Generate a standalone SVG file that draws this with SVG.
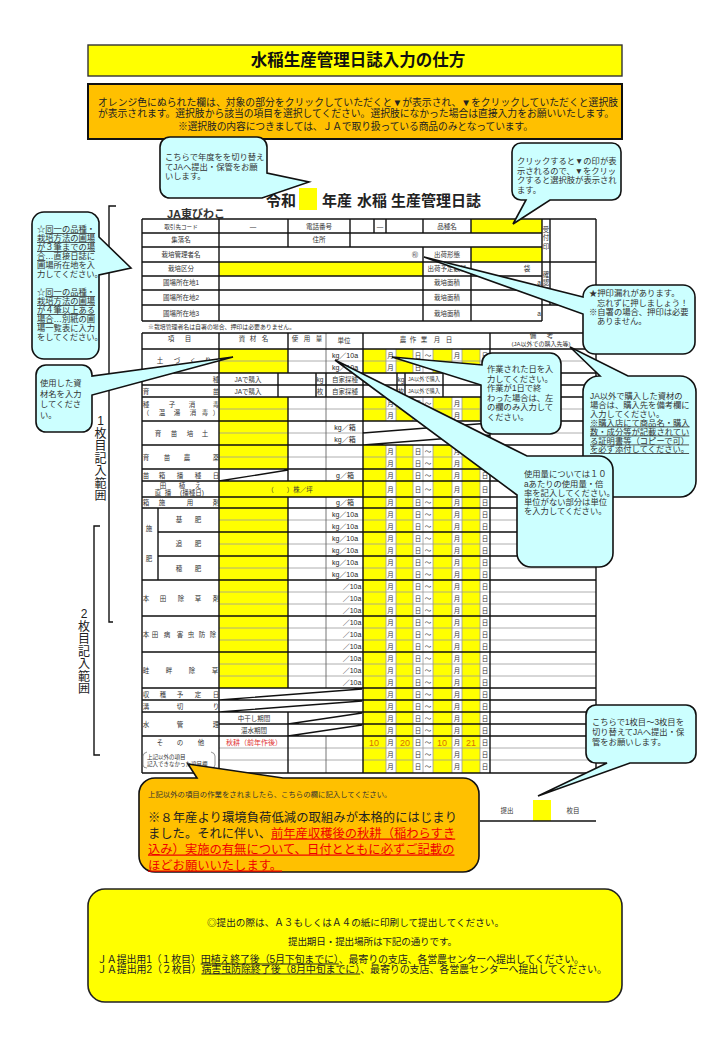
<svg xmlns="http://www.w3.org/2000/svg" width="720" height="1040" viewBox="0 0 720 1040">
<style>
text{font-family:"Liberation Sans","Noto Sans CJK JP",sans-serif;fill:#222}
.b{fill:#ccffff;stroke:#111;stroke-width:1.6}
.o{fill:#ffc000;stroke:#111;stroke-width:1.6}
.y{fill:#ffff00}
.blk{fill:none;stroke:#111;stroke-width:1.4}
.thin{fill:none;stroke:#999;stroke-width:.8}
.mid{fill:none;stroke:#666;stroke-width:.9}
.t{font-size:6.5px;fill:#333}
.tm{font-size:6.5px;text-anchor:middle;fill:#333}
.dt{font-size:6.5px;text-anchor:middle;fill:#333}
.n{font-size:8.3px;fill:#333}
.u{text-decoration:underline}
.r{fill:#f00000;text-decoration:underline}
.v{font-size:12px;text-anchor:middle;fill:#222}
.num{font-size:9px;text-anchor:middle;fill:#d87000}
</style>
<rect width="720" height="1040" fill="#fff"/>

<g id="title">
<rect x="88" y="45" width="534" height="31" class="y" stroke="#333" stroke-width="1.4"/>
<text x="358" y="66" font-size="16.5" font-weight="bold" text-anchor="middle" style="fill:#111">水稲生産管理日誌入力の仕方</text>
</g>

<g id="notice">
<rect x="88" y="84" width="534" height="55" fill="#ffc000" stroke="#111" stroke-width="2"/>
<text x="98" y="105.5" font-size="9.8" textLength="520" lengthAdjust="spacing">オレンジ色にぬられた欄は、対象の部分をクリックしていただくと▼が表示され、▼をクリックしていただくと選択肢</text>
<text x="98" y="116.8" font-size="9.8" textLength="516" lengthAdjust="spacing">が表示されます。選択肢から該当の項目を選択してください。選択肢になかった場合は直接入力をお願いいたします。</text>
<text x="178" y="129.5" font-size="9.8" textLength="355" lengthAdjust="spacing">※選択肢の内容につきましては、ＪＡで取り扱っている商品のみとなっています。</text>
</g>

<g id="form-heading">
<rect x="299" y="188" width="18" height="22" class="y"/>
<text y="206" font-size="15" font-weight="bold" style="fill:#222"><tspan x="266">令和</tspan><tspan x="322">年産</tspan><tspan x="357">水稲</tspan><tspan x="391">生産管理日誌</tspan></text>
<text x="167" y="218" font-size="11" font-weight="bold" style="fill:#333">JA東びわこ</text>
</g>

<g id="brackets">
<path class="blk" d="M116,206H109V622H113"/>
<path class="blk" d="M100,526H94V755H100"/>
<text class="v" x="100.500 100.500 100.500 100.500 100.500 100.500 100.500" y="425 437.500 450 462.500 475 487.500 500">1枚目記入範囲</text>
<text class="v" x="84 84 84 84 84 84 84" y="618 630.500 643 655.500 668 680.500 693">2枚目記入範囲</text>
</g>

<g id="header-table">
<rect class="y" x="471" y="219" width="71" height="14"/>
<rect class="y" x="471" y="247" width="71" height="15"/>
<rect class="y" x="219" y="262" width="204" height="14"/>
<path class="blk" d="M142,219H596M142,233H542M142,247H542M142,262H596M142,276H542M142,290H542M142,305H596M142,321H542M142,219V321M219,219V321M288,219V247M350,219V247M374,219V233M386,219V233M423,219V233M423,247V321M471,219V233M471,247V321M542,219V321M550,219V305M596,219V305"/>
<g class="tm">
<text class="tm" style="font-size:5.6px" x="181" y="228.500">取引先コード</text>
<text class="tm" x="181" y="242">集落名</text>
<text class="tm" x="181" y="256.500">栽培管理者名</text>
<text class="tm" x="181" y="271">栽培区分</text>
<text class="tm" x="181" y="285">圃場所在地1</text>
<text class="tm" x="181" y="300">圃場所在地2</text>
<text class="tm" x="181" y="315.500">圃場所在地3</text>
<text class="tm" x="253" y="228.500">—</text>
<text class="tm" x="319" y="228.500">電話番号</text>
<text class="tm" x="319" y="242">住所</text>
<text class="tm" x="380" y="228.500">—</text>
<text class="tm" x="447" y="228.500">品種名</text>
<text class="tm" x="415" y="256.500">㊞</text>
<text class="tm" x="447" y="256.500">出荷形態</text>
<text class="tm" x="447" y="271">出荷予定数量</text>
<text class="tm" x="527" y="271">袋</text>
<text class="tm" x="447" y="285">栽培面積</text>
<text class="tm" x="447" y="300">栽培面積</text>
<text class="tm" x="447" y="315.500">栽培面積</text>
<text class="tm" x="539" y="285">a</text>
<text class="tm" x="539" y="315.500">a</text>
<text class="tm" x="546 546 546" y="232 240 249">受付印</text>
<text class="tm" x="546 546 546" y="277 285 293">確認印</text>
</g>
<text x="148" y="329" font-size="5.9" style="fill:#333">※栽培管理者名は自署の場合、押印は必要ありません。</text>
</g>

<g id="main-table">
<g class="y">
<rect x="219" y="349" width="69" height="24"/>
<rect x="219" y="397" width="69" height="72"/>
<rect x="219" y="481" width="144" height="16"/>
<rect x="219" y="497" width="69" height="191"/>
<path d="M363,349h23v24h-23zM396,349h17v24h-17zM433,349h19v24h-19zM462,349h18v24h-18zM363,397h23v24h-23zM396,397h17v24h-17zM433,397h19v24h-19zM462,397h18v24h-18zM363,445h23v328h-23zM396,445h17v328h-17zM433,445h19v328h-19zM462,445h18v328h-18z"/>
</g>
<path class="thin" d="M219,361H596M219,409H596M219,433H363M490,433H596M219,457H596M219,520H596M219,544H596M219,568H596M219,592H596M219,604H596M219,628H596M219,640H596M219,664H596M219,676H596M219,748H596M219,760H596M386,349V373M396,349V373M413,349V373M423,349V373M433,349V373M452,349V373M462,349V373M480,349V373M386,397V421M396,397V421M413,397V421M423,397V421M433,397V421M452,397V421M462,397V421M480,397V421M386,445V773M396,445V773M413,445V773M423,445V773M433,445V773M452,445V773M462,445V773M480,445V773"/>
<path class="mid" d="M326,333V373M326,397V481M326,497V688M326,736V773"/>
<path class="blk" d="M142,333H596M142,349H596M142,373H596M142,385H596M142,397H596M142,421H596M142,445H596M142,469H596M142,481H596M142,497H596M142,508H596M158,532H596M158,556H596M142,580H596M142,616H596M142,652H596M142,688H596M142,700H596M142,712H596M219,724H596M142,736H596M142,773H596M142,333V773M158,508V580M219,333V773M288,333V373M288,397V481M288,497V688M288,712V773M363,333V773M490,333V773M596,333V773M278,373V397M316,373V397M326,373V397M397,373V397M405,373V397M443,373V397M219,481L288,470M363,433L490,423M363,445L490,435M219,700L362,689M219,712L362,701M288,724L362,713M288,736L362,725"/>
<g id="row-labels">
<text class="tm" x="171 188" y="341 341">項目</text>
<text class="tm" x="242 253 265" y="341 341 341">資材名</text>
<text class="tm" x="295 307 319" y="341 341 341">使用量</text>
<text class="tm" x="344" y="342.500">単位</text>
<text class="tm" x="403 413 424 437 449" y="342 342 342 342 342">農作業月日</text>
<text class="tm" x="533 550" y="338 338">備考</text>
<text class="tm" style="font-size:6px" x="541" y="345.500">(JA以外での購入先等)</text>
<text class="tm" x="160 177 193 208" y="363 363 363 363">土づくり</text>
<text class="tm" x="216" y="381.500">種</text>
<text class="tm" x="146 216" y="393.500 393.500">育苗</text>
<text class="tm" x="146 172 192 216" y="407 407 407 407">種子消毒</text>
<text class="tm" x="146 162 177 193 205 216" y="415 415 415 415 415 415">（温湯消毒）</text>
<text class="tm" x="158 174 190 205" y="435.500 435.500 435.500 435.500">育苗培土</text>
<text class="tm" x="146 167 187 216" y="459.500 459.500 459.500 459.500">育苗農薬</text>
<text class="tm" x="146 162 180 198 216" y="477.500 477.500 477.500 477.500 477.500">苗箱播種日</text>
<text class="tm" x="163 182 198" y="487.500 487.500 487.500">田植え</text>
<text class="tm" x="158 168" y="494.500 494.500">直播</text>
<text class="tm" x="192" y="494.500">(播種日)</text>
<text class="tm" x="146 162 190 216" y="505 505 505 505">箱施用剤</text>
<text class="tm" x="149 149" y="531 561">施肥</text>
<text class="tm" x="179 198" y="522 522">基肥</text>
<text class="tm" x="179 198" y="546 546">追肥</text>
<text class="tm" x="179 198" y="571 571">穂肥</text>
<text class="tm" x="146 163 181 198 216" y="600.500 600.500 600.500 600.500 600.500">本田除草剤</text>
<text class="tm" x="146 155 167 180 191 202 213" y="636.500 636.500 636.500 636.500 636.500 636.500 636.500">本田病害虫防除</text>
<text class="tm" x="146 169 192 215" y="672.500 672.500 672.500 672.500">畦畔除草</text>
<text class="tm" x="146 163 180 198 216" y="696.500 696.500 696.500 696.500 696.500">収穫予定日</text>
<text class="tm" x="146 180 216" y="708.500 708.500 708.500">溝切り</text>
<text class="tm" x="146 180 216" y="726.500 726.500 726.500">水管理</text>
<text class="tm" x="160 180 201" y="744.500 744.500 744.500">その他</text>
<path class="mid" style="stroke-width:.7" d="M147,752Q143,753 143,756V765Q143,768 147,768M211,752Q215,753 215,756V765Q215,768 211,768"/>
<text x="147" y="758.500" font-size="5.5" style="fill:#333">上記以外の項目</text>
<text x="147" y="765.500" font-size="5.5" style="fill:#333">記入できなかった項目欄</text>
<text class="tm" x="248" y="381.500">JAで購入</text>
<text class="tm" x="248" y="393.500">JAで購入</text>
<text class="tm" x="320" y="381.500">kg</text>
<text class="tm" x="320" y="393.500">枚</text>
<text class="tm" x="345" y="381.500">自家採種</text>
<text class="tm" x="345" y="393.500">自家採種</text>
<text class="tm" x="401" y="381.500">kg</text>
<text class="tm" x="401" y="393.500">枚</text>
<text class="tm" style="font-size:5.2px" x="424" y="381">JA以外で購入</text>
<text class="tm" style="font-size:5.2px" x="424" y="393">JA以外で購入</text>
<text class="tm" x="290" y="491.500">（　　）株／坪</text>
<text class="tm" x="254" y="720.500">中干し期間</text>
<text class="tm" x="254" y="732.500">湛水期間</text>
<text x="254" y="745" font-size="7" text-anchor="middle" style="fill:#e03030">秋耕（前年作後）</text>
</g>
<g id="units" class="dt" style="font-size:7px">
<text x="345" y="357.500">kg／10a</text>
<text x="345" y="369.500">kg／10a</text>
<text x="345" y="429.500">kg／箱</text>
<text x="345" y="441.500">kg／箱</text>
<text x="345" y="477.500">g／箱</text>
<text x="345" y="505">g／箱</text>
<text x="345" y="516.500">kg／10a</text>
<text x="345" y="528.500">kg／10a</text>
<text x="345" y="540.500">kg／10a</text>
<text x="345" y="552.500">kg／10a</text>
<text x="345" y="564.500">kg／10a</text>
<text x="345" y="576.500">kg／10a</text>
<text x="352" y="588.500">／10a</text>
<text x="352" y="600.500">／10a</text>
<text x="352" y="612.500">／10a</text>
<text x="352" y="624.500">／10a</text>
<text x="352" y="636.500">／10a</text>
<text x="352" y="648.500">／10a</text>
<text x="352" y="660.500">／10a</text>
<text x="352" y="672.500">／10a</text>
<text x="352" y="684.500">／10a</text>
</g>
<g id="dates">
<text class="dt" x="390.500 418 428 457 485" y="357.500">月日～月日</text>
<text class="dt" x="390.500 418 428 457 485" y="369.500">月日～月日</text>
<text class="dt" x="390.500 418 428 457 485" y="405.500">月日～月日</text>
<text class="dt" x="390.500 418 428 457 485" y="417.500">月日～月日</text>
<text class="dt" x="390.500 418 428 457 485" y="453.500">月日～月日</text>
<text class="dt" x="390.500 418 428 457 485" y="465.500">月日～月日</text>
<text class="dt" x="390.500 418 428 457 485" y="477.500">月日～月日</text>
<text class="dt" x="390.500 418 428 457 485" y="491.500">月日～月日</text>
<text class="dt" x="390.500 418 428 457 485" y="505">月日～月日</text>
<text class="dt" x="390.500 418 428 457 485" y="516.500">月日～月日</text>
<text class="dt" x="390.500 418 428 457 485" y="528.500">月日～月日</text>
<text class="dt" x="390.500 418 428 457 485" y="540.500">月日～月日</text>
<text class="dt" x="390.500 418 428 457 485" y="552.500">月日～月日</text>
<text class="dt" x="390.500 418 428 457 485" y="564.500">月日～月日</text>
<text class="dt" x="390.500 418 428 457 485" y="576.500">月日～月日</text>
<text class="dt" x="390.500 418 428 457 485" y="588.500">月日～月日</text>
<text class="dt" x="390.500 418 428 457 485" y="600.500">月日～月日</text>
<text class="dt" x="390.500 418 428 457 485" y="612.500">月日～月日</text>
<text class="dt" x="390.500 418 428 457 485" y="624.500">月日～月日</text>
<text class="dt" x="390.500 418 428 457 485" y="636.500">月日～月日</text>
<text class="dt" x="390.500 418 428 457 485" y="648.500">月日～月日</text>
<text class="dt" x="390.500 418 428 457 485" y="660.500">月日～月日</text>
<text class="dt" x="390.500 418 428 457 485" y="672.500">月日～月日</text>
<text class="dt" x="390.500 418 428 457 485" y="684.500">月日～月日</text>
<text class="dt" x="390.500 418 428 457 485" y="696.500">月日～月日</text>
<text class="dt" x="390.500 418 428 457 485" y="708.500">月日～月日</text>
<text class="dt" x="390.500 418 428 457 485" y="720.500">月日～月日</text>
<text class="dt" x="390.500 418 428 457 485" y="732.500">月日～月日</text>
<text class="dt" x="390.500" y="744.500">月</text>
<text class="dt" x="418" y="744.500">日</text>
<text class="dt" x="428" y="744.500">～</text>
<text class="dt" x="457" y="744.500">月</text>
<text class="dt" x="485" y="744.500">日</text>
<text class="dt" x="390.500 418 428 457 485" y="756.500">月日～月日</text>
<text class="dt" x="390.500 418 428 457 485" y="769">月日～月日</text>
<text class="num" x="374" y="745.500">10</text>
<text class="num" x="405" y="745.500">20</text>
<text class="num" x="442" y="745.500">10</text>
<text class="num" x="471" y="745.500">21</text>
</g>
</g>

<g id="submit-count">
<rect class="y" x="533" y="800" width="18" height="21"/>
<path class="blk" d="M480,821H596"/>
<text class="tm" x="507" y="813">提出</text>
<text class="tm" x="573" y="813">枚目</text>
</g>

<g id="callout-year">
<path class="b" d="M170,137H257A10,10 0 0 1 267,147V173L309,182L262,198H170A10,10 0 0 1 160,188V147A10,10 0 0 1 170,137Z"/>
<text class="n" x="165" y="160">こちらで年度をを切り替え</text>
<text class="n" x="165" y="169.500">てJAへ提出・保管をお願</text>
<text class="n" x="165" y="179">いします。</text>
</g>
<g id="callout-click">
<path class="b" d="M521,143H612A9,9 0 0 1 621,152V191A9,9 0 0 1 612,200H550L513,224L526,200H521A9,9 0 0 1 512,191V152A9,9 0 0 1 521,143Z"/>
<text class="n" x="517" y="164">クリックすると▼の印が表</text>
<text class="n" x="517" y="173.500">示されるので、▼をクリッ</text>
<text class="n" x="517" y="183">クすると選択肢が表示され</text>
<text class="n" x="517" y="192.500">ます。</text>
</g>
<g id="callout-field">
<path class="b" d="M44,212H88A12,12 0 0 1 99,222V237L131,268L99,275V347A12,12 0 0 1 87,359H44A12,12 0 0 1 32,347V224A12,12 0 0 1 44,212Z"/>
<g class="n">
<text class="n" x="37" y="232">☆<tspan class="u">同一の品種・</tspan></text>
<text class="n u" x="37" y="241">栽培方法の圃場</text>
<text class="n u" x="37" y="250">が３筆までの場</text>
<text class="n" x="37" y="259"><tspan class="u">合</tspan>…直接日誌に</text>
<text class="n" x="37" y="268">圃場所在地を入</text>
<text class="n" x="37" y="277">力してください。</text>
<text class="n" x="37" y="295">☆<tspan class="u">同一の品種・</tspan></text>
<text class="n u" x="37" y="304">栽培方法の圃場</text>
<text class="n u" x="37" y="313">が４筆以上ある</text>
<text class="n" x="37" y="322"><tspan class="u">場合</tspan>…別紙の圃</text>
<text class="n" x="37" y="331">場一覧表に入力</text>
<text class="n" x="37" y="340">をしてください。</text>
</g>
</g>
<g id="callout-material">
<path class="b" d="M46,365H82A10,10 0 0 1 92,375V376L233,357L92,395V422A10,10 0 0 1 82,432H46A10,10 0 0 1 36,422V375A10,10 0 0 1 46,365Z"/>
<text class="n" x="40" y="386">使用した資</text>
<text class="n" x="40" y="396.500">材名を入力</text>
<text class="n" x="40" y="407">してくださ</text>
<text class="n" x="40" y="417.500">い。</text>
</g>
<g id="callout-date">
<path class="b" d="M392,357L482,365V363A10,10 0 0 1 492,353H550A11,11 0 0 1 561,364V423A11,11 0 0 1 550,434H492A11,11 0 0 1 481,423V385Z"/>
<text class="n" x="487" y="372">作業された日を入</text>
<text class="n" x="487" y="381.500">力してください。</text>
<text class="n" x="487" y="391">作業が1日で終</text>
<text class="n" x="487" y="400.500">わった場合は、左</text>
<text class="n" x="487" y="410">の欄のみ入力して</text>
<text class="n" x="487" y="419.500">ください。</text>
</g>
<g id="callout-other">
<path class="b" d="M570,347L628,376H680A16,16 0 0 1 696,392V481A16,16 0 0 1 680,497H599A16,16 0 0 1 583,481V392A16,16 0 0 1 599,376H600Z"/>
<text class="n" x="590" y="399">JA以外で購入した資材の</text>
<text class="n" x="590" y="408">場合は、購入先を備考欄に</text>
<text class="n" x="590" y="417">入力してください。</text>
<text class="n u" x="590" y="425.500">※購入店にて商品名・購入</text>
<text class="n u" x="590" y="434.500">数・成分等が記載されてい</text>
<text class="n u" x="590" y="443.500">る証明書等（コピーで可）</text>
<text class="n u" x="590" y="452">を必ず添付してください。</text>
</g>
<g id="callout-amount">
<path class="b" d="M335,360L527,456H599A14,14 0 0 1 613,470V553A14,14 0 0 1 599,567H531A14,14 0 0 1 517,553V495Z"/>
<text class="n" x="524" y="477">使用量については１０</text>
<text class="n" x="524" y="487">aあたりの使用量・倍</text>
<text class="n" x="524" y="496">率を記入してください。</text>
<text class="n" x="524" y="505">単位がない部分は単位</text>
<text class="n" x="524" y="514">を入力してください。</text>
</g>
<g id="callout-seal">
<path class="b" d="M424,257L583,297V297A12,12 0 0 1 595,285H683A12,12 0 0 1 695,297V342A12,12 0 0 1 683,354H595A12,12 0 0 1 583,342V314Z"/>
<text class="n" x="589" y="296">★押印漏れがあります。</text>
<text class="n" x="597" y="306">忘れずに押しましょう！</text>
<text class="n" x="589" y="315">※自署の場合、押印は必要</text>
<text class="n" x="597" y="324">ありません。</text>
</g>
<g id="callout-sheet">
<path class="b" d="M596,705H686A10,10 0 0 1 696,715V753A10,10 0 0 1 686,763H630L538,796L607,763H596A10,10 0 0 1 586,753V715A10,10 0 0 1 596,705Z"/>
<text class="n" x="592" y="725">こちらで1枚目～3枚目を</text>
<text class="n" x="592" y="735">切り替えてJAへ提出・保</text>
<text class="n" x="592" y="745">管をお願いします。</text>
</g>
<g id="callout-other-work">
<path class="o" d="M155,778H197L188,764L283,778H463A16,16 0 0 1 479,794V856A16,16 0 0 1 463,872H155A16,16 0 0 1 139,856V794A16,16 0 0 1 155,778Z"/>
<text x="148" y="797" font-size="7.4" style="fill:#333">上記以外の項目の作業をされましたら、こちらの欄に記入してください。</text>
<text x="148" y="821.500" font-size="12.3" textLength="309" style="fill:#222">※８年産より環境負荷低減の取組みが本格的にはじまり</text>
<text x="148" y="837.500" font-size="12.3" style="fill:#222">ました。それに伴い、<tspan class="r">前年産収穫後の秋耕（稲わらすき</tspan></text>
<text x="148" y="853.500" font-size="12.3" class="r">込み）実施の有無について、日付とともに必ずご記載の</text>
<text x="148" y="869.500" font-size="12.3" class="r">ほどお願いいたします。</text>
</g>
<g id="submit-note">
<rect x="88" y="889" width="534" height="113" rx="17" ry="17" class="y" stroke="#222" stroke-width="1.6"/>
<text x="207" y="925.500" font-size="9.6" textLength="297" style="fill:#222">◎提出の際は、Ａ３もしくはＡ４の紙に印刷して提出してください。</text>
<text x="288" y="944.500" font-size="9.6" textLength="169" style="fill:#222">提出期日・提出場所は下記の通りです。</text>
<text x="97" y="962.500" font-size="10" textLength="487" style="fill:#222">ＪＡ提出用1（１枚目）<tspan class="u">田植え終了後（5月下旬までに）</tspan>、最寄りの支店、各営農センターへ提出してください。</text>
<text x="97" y="972.500" font-size="10" textLength="510" style="fill:#222">ＪＡ提出用2（２枚目）<tspan class="u">病害虫防除終了後（8月中旬までに）</tspan>、最寄りの支店、各営農センターへ提出してください。</text>
</g>
</svg>
